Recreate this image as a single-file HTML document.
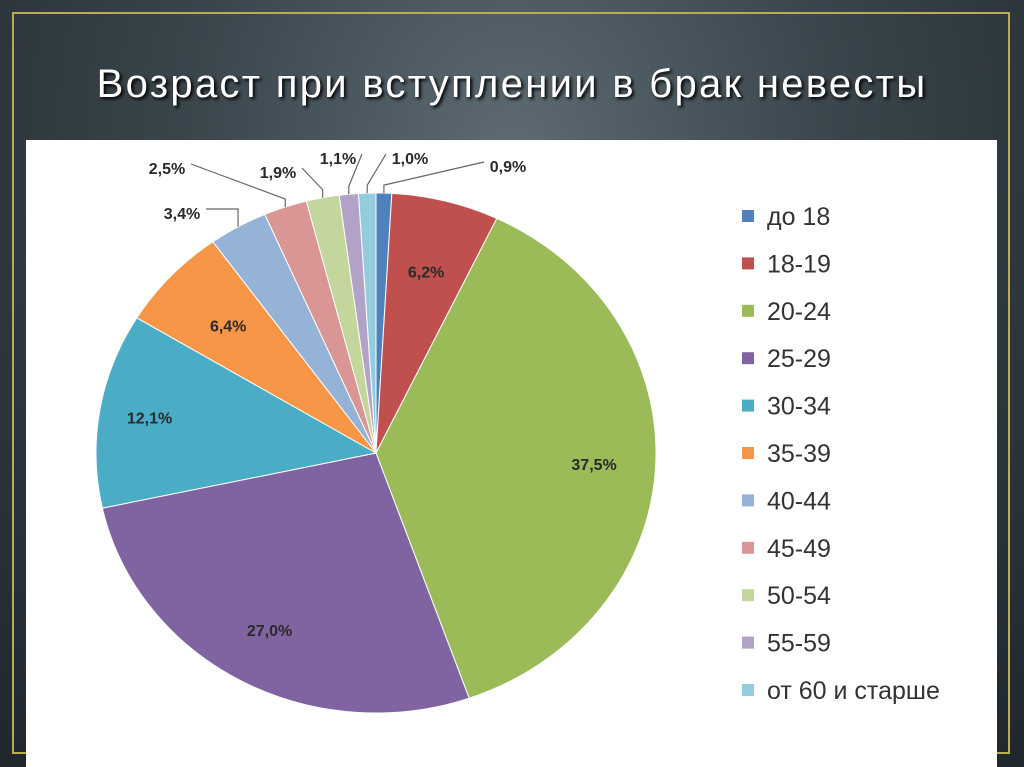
<!DOCTYPE html>
<html><head><meta charset="utf-8"><style>
html,body{margin:0;padding:0}
body{width:1024px;height:767px;overflow:hidden;position:relative;
background:radial-gradient(ellipse at 50% 20%,#5e6b73 0%,#3a454c 45%,#1f272d 100%);
font-family:"Liberation Sans","DejaVu Sans",sans-serif}
#frame{position:absolute;left:12px;top:12px;width:998px;height:742px;border:2px solid #b9ae4a;box-sizing:border-box}
#title{position:absolute;left:0;width:1024px;top:62px;text-align:center;color:#fff;font-size:40px;letter-spacing:2.3px;text-shadow:2px 2px 3px #000}
#panel{position:absolute;left:26px;top:140px;width:971px;height:627px;background:#fff}
svg{position:absolute;left:0;top:0}
</style></head><body>
<div id="frame"></div>
<div id="title">Возраст при вступлении в брак невесты</div>
<div id="panel"></div>
<svg id="chart" width="1024" height="767"></svg>
<script>
const categories=["до 18","18-19","20-24","25-29","30-34","35-39","40-44","45-49","50-54","55-59","от 60 и старше"];
const values=[0.9,6.2,37.5,27.0,12.1,6.4,3.4,2.5,1.9,1.1,1.0];
const valueLabels=["0,9%","6,2%","37,5%","27,0%","12,1%","6,4%","3,4%","2,5%","1,9%","1,1%","1,0%"];
const colors=["#4F81BD","#C0504D","#9BBB59","#8064A2","#4BACC6","#F79646","#95B3D7","#D99694","#C3D69B","#B3A2C7","#93CDDD"];
const NS="http://www.w3.org/2000/svg";
const svg=document.getElementById('chart');
const cx=376,cy=453,rx=280,ry=260;
const total=values.reduce((a,b)=>a+b,0);
function pt(a,f){return [cx+rx*f*Math.sin(a),cy-ry*f*Math.cos(a)];}
const outside={0:[508,166],7:[167,168],8:[278,172],9:[338,158],10:[410,158],6:[182,213]};
let acc=0;
values.forEach((v,i)=>{
  const a0=acc/total*2*Math.PI; acc+=v; const a1=acc/total*2*Math.PI;
  const p0=pt(a0,1),p1=pt(a1,1);
  const large=(a1-a0)>Math.PI?1:0;
  const p=document.createElementNS(NS,'path');
  p.setAttribute('d',`M${cx},${cy}L${p0[0]},${p0[1]}A${rx},${ry} 0 ${large} 1 ${p1[0]},${p1[1]}Z`);
  p.setAttribute('fill',colors[i]);p.setAttribute('stroke','#fff');p.setAttribute('stroke-width','1');
  
  
  svg.appendChild(p);
  const am=(a0+a1)/2;
  let lx,ly;
  if(outside[i]){
    [lx,ly]=outside[i];
    const e=pt(am,1.0);
    const ln=document.createElementNS(NS,'polyline');
    const sx=lx<e[0]?lx+24:lx-24;
    ln.setAttribute('points',`${sx},${ly-4} ${e[0]},${ly+8<e[1]-8?e[1]-8:ly-4} ${e[0]},${e[1]}`);
    ln.setAttribute('fill','none');ln.setAttribute('stroke','#666');ln.setAttribute('stroke-width','1.2');
    
    
    svg.appendChild(ln);
  } else {
    const f=v>20?0.78:(v>10?0.82:0.72);
    [lx,ly]=pt(am,f);
  }
  const t=document.createElementNS(NS,'text');
  t.setAttribute('x',lx);t.setAttribute('y',ly+6);t.setAttribute('text-anchor','middle');
  t.setAttribute('font-size','16');t.setAttribute('font-weight','bold');t.setAttribute('fill','#2a2a2a');
  t.setAttribute('font-family','"Liberation Sans",sans-serif');
  
  
  t.textContent=valueLabels[i];
  svg.appendChild(t);
});
categories.forEach((c,i)=>{
  const y=216+i*47.4;
  const r=document.createElementNS(NS,'rect');
  r.setAttribute('x',742);r.setAttribute('y',y-6);r.setAttribute('width',12);r.setAttribute('height',12);r.setAttribute('fill',colors[i]);
  
  
  svg.appendChild(r);
  const t=document.createElementNS(NS,'text');
  t.setAttribute('x',767);t.setAttribute('y',y+9);t.setAttribute('font-size','25');t.setAttribute('fill','#333');
  t.setAttribute('font-family','"Liberation Sans",sans-serif');
  
  
  t.textContent=c;
  svg.appendChild(t);
});
</script>
</body></html>
